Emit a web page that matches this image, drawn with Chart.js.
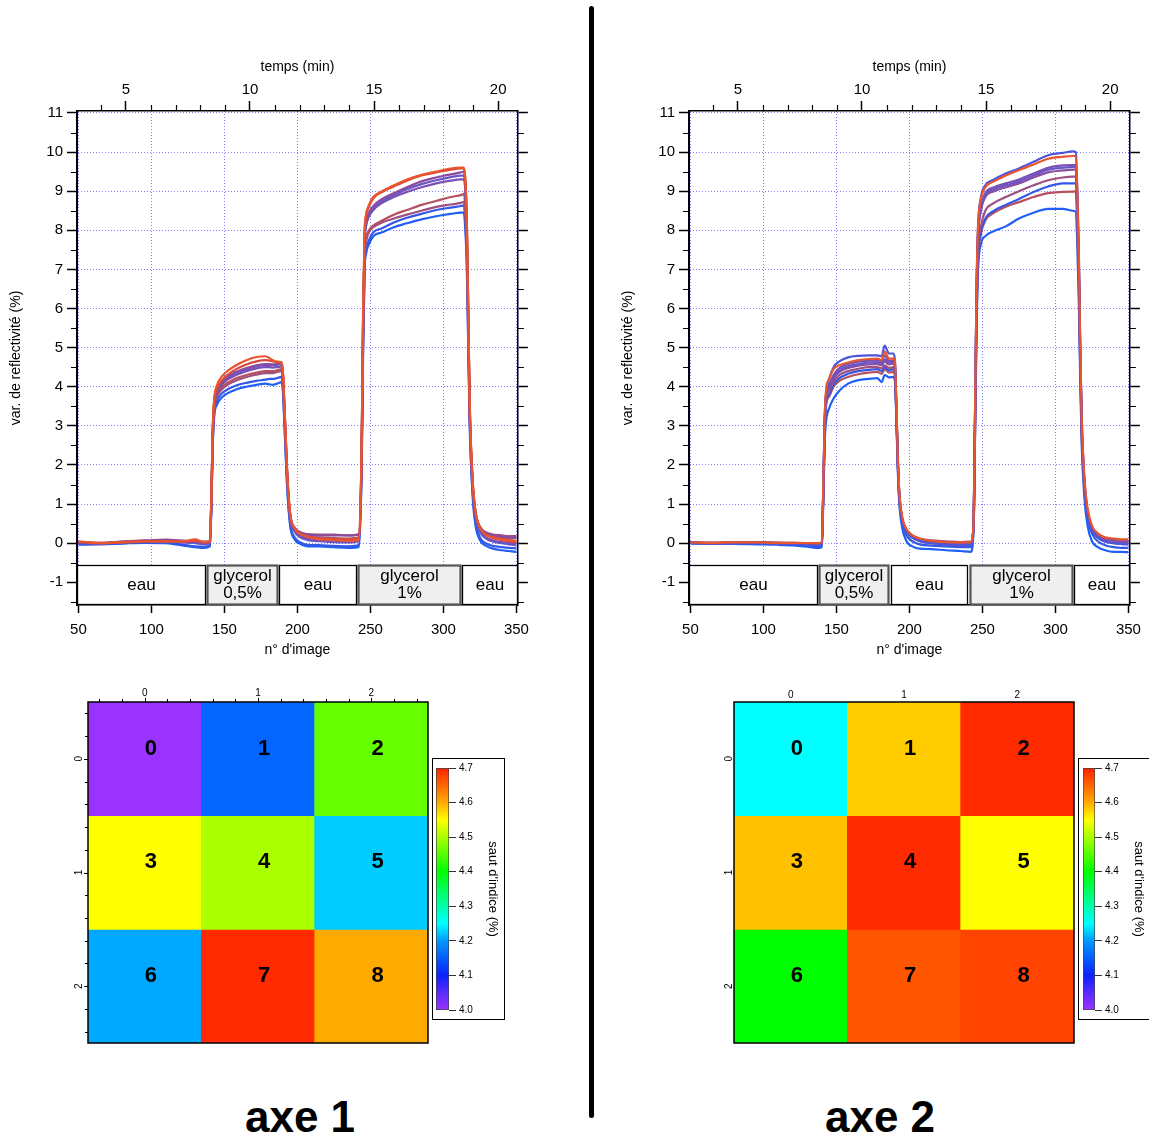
<!DOCTYPE html>
<html lang="fr">
<head>
<meta charset="utf-8">
<title>axe 1 / axe 2</title>
<script src="https://cdn.jsdelivr.net/npm/chart.js@4.4.1/dist/chart.umd.min.js"></script>
<style>
  html, body { margin: 0; padding: 0; background: #fff; overflow: hidden; }
  body { width: 1149px; height: 1138px; position: relative; font-family: 'Liberation Sans', Arial, sans-serif; }
  canvas { position: absolute; }
  .cbar { position: absolute; border: 1px solid #000; background: #fff; }
  .cbar canvas { left: 0; top: 0; }
  .axe { position: absolute; top: 1091px; width: 300px; text-align: center; font-weight: bold; font-size: 44px; line-height: 52px; }
  #divider { position: absolute; left: 589px; top: 6px; width: 5px; height: 1112px; background: #000; border-radius: 3px; }
</style>
</head>
<body>
<canvas id="line1" width="537" height="610" style="left:0;top:50px"></canvas>
<canvas id="line2" width="537" height="610" style="left:612px;top:50px"></canvas>
<canvas id="heat1" width="380" height="380" style="left:60px;top:670px"></canvas>
<canvas id="heat2" width="380" height="380" style="left:706px;top:670px"></canvas>
<div class="cbar" style="left:432px;top:758px;width:71px;height:260px"><canvas id="cbar1" width="71" height="260"></canvas></div>
<div class="cbar" style="left:1078px;top:758px;width:71px;height:260px"><canvas id="cbar2" width="71" height="260"></canvas></div>
<div id="divider"></div>
<div class="axe" style="left:150px">axe 1</div>
<div class="axe" style="left:730px">axe 2</div>

<script>
// n° d'image des points relevés
const imageNums = [50, 65, 80, 95, 110, 122, 130, 136, 140,
  141, 142, 143, 145, 148, 152, 158, 165,
  172, 178, 181, 183, 186, 189,
  190, 191, 192, 193, 195, 198, 202, 207,
  215, 225, 235, 242,
  244, 245, 246, 247, 249, 252, 258, 266,
  275, 285, 295, 305, 312,
  314, 315, 316, 317, 318, 320, 322, 325,
  329, 334, 340, 345, 350];
const imageTicks = [50, 100, 150, 200, 250, 300, 350];

// axe 1 : var. de reflectivité (%)
const axe1Line0 = [-0.04, -0.03, -0.01, 0.01, 0.0, -0.06, -0.1, -0.12, -0.08,
  0.85, 2.5, 3.25, 3.55, 3.72, 3.83, 3.93, 4.0,
  4.05, 4.08, 4.06, 4.05, 4.08, 4.12,
  3.9, 3.1, 2.2, 1.4, 0.45, 0.1, -0.02, -0.08,
  -0.08, -0.1, -0.12, -0.1,
  1.9, 5.0, 7.0, 7.4, 7.65, 7.85, 7.95, 8.08,
  8.18, 8.28, 8.36, 8.42, 8.45,
  8.45, 8.0, 7.1, 5.0, 3.0, 1.2, 0.45, 0.08,
  -0.06, -0.14, -0.18, -0.2, -0.22];
const axe1Line1 = [-0.02, -0.02, 0.0, 0.02, 0.02, -0.04, -0.08, -0.09, -0.06,
  0.9, 2.6, 3.35, 3.65, 3.82, 3.93, 4.03, 4.1,
  4.15, 4.18, 4.2, 4.2, 4.22, 4.25,
  4.0, 3.2, 2.3, 1.45, 0.5, 0.15, 0.02, -0.04,
  -0.05, -0.07, -0.08, -0.05,
  2.0, 5.1, 7.1, 7.5, 7.75, 7.95, 8.05, 8.2,
  8.32, 8.42, 8.52, 8.58, 8.62,
  8.64, 8.2, 7.3, 5.2, 3.1, 1.3, 0.55, 0.15,
  0.0, -0.07, -0.1, -0.12, -0.13];
const axe1Line2 = [0.02, 0.0, 0.04, 0.07, 0.09, 0.06, 0.05, 0.04, 0.05,
  1.0, 2.7, 3.4, 3.75, 3.92, 4.05, 4.16, 4.25,
  4.31, 4.35, 4.35, 4.35, 4.38, 4.4,
  4.2, 3.35, 2.45, 1.62, 0.7, 0.38, 0.27, 0.23,
  0.22, 0.22, 0.2, 0.23,
  2.2, 5.3, 7.3, 7.7, 7.95, 8.08, 8.2, 8.3,
  8.4, 8.5, 8.6, 8.66, 8.7,
  8.73, 8.4, 7.5, 5.4, 3.3, 1.5, 0.78, 0.42,
  0.28, 0.22, 0.2, 0.18, 0.18];
const axe1Line3 = [0.03, 0.01, 0.03, 0.05, 0.07, 0.05, 0.04, 0.03, 0.04,
  1.0, 2.7, 3.45, 3.8, 3.98, 4.1, 4.22, 4.3,
  4.36, 4.4, 4.4, 4.4, 4.42, 4.45,
  4.25, 3.4, 2.5, 1.65, 0.68, 0.35, 0.22, 0.16,
  0.15, 0.13, 0.12, 0.15,
  2.2, 5.4, 7.4, 7.8, 8.0, 8.12, 8.25, 8.4,
  8.52, 8.65, 8.75, 8.85, 8.9,
  8.93, 8.6, 7.7, 5.5, 3.3, 1.5, 0.75, 0.38,
  0.22, 0.16, 0.13, 0.12, 0.12];
const axe1Line4 = [0.01, 0.0, 0.03, 0.05, 0.06, 0.03, 0.01, 0.0, 0.01,
  1.0, 2.75, 3.5, 3.85, 4.05, 4.18, 4.3, 4.4,
  4.47, 4.5, 4.5, 4.49, 4.5, 4.52,
  4.3, 3.45, 2.55, 1.7, 0.66, 0.32, 0.18, 0.11,
  0.08, 0.06, 0.05, 0.07,
  2.3, 5.7, 7.7, 8.1, 8.35, 8.52, 8.7, 8.85,
  8.98, 9.1, 9.2, 9.27, 9.3,
  9.3, 9.0, 8.0, 5.7, 3.4, 1.5, 0.7, 0.32,
  0.15, 0.07, 0.03, 0.01, 0.0];
const axe1Line5 = [0.0, -0.01, 0.02, 0.04, 0.05, 0.02, 0.0, -0.02, 0.0,
  1.0, 2.8, 3.55, 3.9, 4.08, 4.22, 4.35, 4.45,
  4.52, 4.56, 4.56, 4.55, 4.56, 4.58,
  4.35, 3.5, 2.6, 1.7, 0.65, 0.3, 0.15, 0.08,
  0.05, 0.03, 0.02, 0.05,
  2.4, 5.8, 7.75, 8.15, 8.4, 8.58, 8.75, 8.9,
  9.05, 9.18, 9.28, 9.36, 9.4,
  9.4, 9.1, 8.1, 5.8, 3.4, 1.5, 0.7, 0.3,
  0.12, 0.04, 0.0, -0.03, -0.05];
const axe1Line6 = [0.02, 0.0, 0.04, 0.06, 0.08, 0.06, 0.05, 0.03, 0.03,
  1.1, 2.85, 3.6, 3.9, 4.1, 4.25, 4.38, 4.48,
  4.55, 4.58, 4.58, 4.57, 4.58, 4.6,
  4.38, 3.58, 2.68, 1.78, 0.75, 0.4, 0.28, 0.22,
  0.2, 0.2, 0.2, 0.22,
  2.4, 5.8, 7.8, 8.2, 8.45, 8.62, 8.8, 8.95,
  9.1, 9.25, 9.35, 9.43, 9.48,
  9.5, 9.2, 8.2, 5.9, 3.5, 1.6, 0.8, 0.42,
  0.26, 0.2, 0.17, 0.15, 0.15];
const axe1Line7 = [0.03, 0.01, 0.02, 0.04, 0.05, 0.04, 0.06, 0.02, 0.04,
  1.1, 2.9, 3.65, 3.95, 4.15, 4.3, 4.45, 4.57,
  4.65, 4.68, 4.67, 4.65, 4.63, 4.62,
  4.4, 3.6, 2.7, 1.8, 0.75, 0.38, 0.25, 0.17,
  0.12, 0.1, 0.1, 0.1,
  2.5, 5.9, 7.9, 8.35, 8.6, 8.82, 8.98, 9.12,
  9.27, 9.4, 9.48, 9.55, 9.58,
  9.58, 9.3, 8.3, 6.0, 3.6, 1.6, 0.8, 0.4,
  0.22, 0.13, 0.08, 0.05, 0.02];
const axe1Line8 = [0.05, 0.0, 0.03, 0.05, 0.04, 0.05, 0.1, 0.03, 0.05,
  1.2, 3.0, 3.7, 4.05, 4.25, 4.4, 4.55, 4.68,
  4.76, 4.78, 4.73, 4.68, 4.64, 4.63,
  4.4, 3.6, 2.7, 1.8, 0.75, 0.38, 0.24, 0.16,
  0.1, 0.08, 0.06, 0.08,
  2.6, 6.0, 8.0, 8.4, 8.65, 8.85, 9.0, 9.15,
  9.3, 9.42, 9.5, 9.58, 9.6,
  9.6, 9.3, 8.3, 6.0, 3.6, 1.6, 0.8, 0.4,
  0.22, 0.15, 0.1, 0.08, 0.05];
const axe1Colors = ['#1f5ff5', '#3358e6', '#9e5080', '#b5505e', '#7a50b4', '#6a55c8', '#8a4c9c', '#d8483a', '#e9552c'];

// axe 2 : var. de reflectivité (%)
const axe2Line0 = [-0.01, -0.02, -0.02, -0.03, -0.04, -0.06, -0.09, -0.12, -0.1,
  1.1, 2.6, 3.15, 3.45, 3.7, 3.9, 4.08, 4.17,
  4.2, 4.22, 4.12, 4.3, 4.24, 4.25,
  4.15, 3.2, 1.9, 1.05, 0.4, 0.05, -0.08, -0.14,
  -0.15, -0.18, -0.2, -0.22,
  0.4, 3.0, 5.5, 7.0, 7.65, 7.85, 7.98, 8.1,
  8.3, 8.45, 8.55, 8.55, 8.5,
  8.47, 7.6, 6.2, 4.1, 2.5, 1.1, 0.45, 0.05,
  -0.1, -0.18, -0.22, -0.22, -0.23];
const axe2Line1 = [0.02, 0.01, 0.02, 0.02, 0.01, 0.0, 0.0, -0.01, 0.01,
  1.25, 2.9, 3.55, 3.75, 4.0, 4.15, 4.25, 4.32,
  4.36, 4.38, 4.33, 4.45, 4.36, 4.38,
  4.3, 3.32, 2.02, 1.2, 0.6, 0.32, 0.18, 0.1,
  0.05, 0.03, 0.01, 0.02,
  0.45, 3.0, 5.7, 7.2, 7.9, 8.25, 8.45, 8.6,
  8.72, 8.85, 8.95, 8.98, 8.99,
  8.99, 8.1, 6.7, 4.5, 2.8, 1.35, 0.75, 0.38,
  0.2, 0.1, 0.05, 0.03, 0.02];
const axe2Line2 = [0.0, -0.01, 0.0, 0.0, -0.02, -0.03, -0.05, -0.08, -0.05,
  1.25, 2.9, 3.6, 3.8, 4.05, 4.22, 4.33, 4.4,
  4.43, 4.45, 4.4, 4.5, 4.42, 4.45,
  4.35, 3.35, 2.0, 1.15, 0.52, 0.2, 0.05, -0.03,
  -0.06, -0.08, -0.1, -0.1,
  0.45, 3.1, 5.8, 7.3, 7.95, 8.3, 8.5, 8.65,
  8.8, 8.98, 9.12, 9.2, 9.2,
  9.2, 8.3, 6.8, 4.5, 2.8, 1.3, 0.65, 0.25,
  0.05, -0.05, -0.1, -0.12, -0.12];
const axe2Line3 = [0.02, 0.01, 0.02, 0.02, 0.01, 0.01, 0.0, -0.01, 0.01,
  1.3, 3.0, 3.7, 3.9, 4.12, 4.3, 4.4, 4.46,
  4.5, 4.5, 4.47, 4.55, 4.48, 4.5,
  4.42, 3.42, 2.1, 1.25, 0.63, 0.34, 0.2, 0.12,
  0.07, 0.05, 0.03, 0.04,
  0.5, 3.2, 6.0, 7.5, 8.1, 8.5, 8.7, 8.85,
  9.0, 9.15, 9.28, 9.35, 9.37,
  9.37, 8.5, 7.0, 4.7, 2.9, 1.4, 0.8, 0.4,
  0.22, 0.12, 0.08, 0.06, 0.05];
const axe2Line4 = [0.02, 0.01, 0.01, 0.02, 0.01, 0.0, -0.01, -0.02, 0.0,
  1.35, 3.1, 3.75, 3.95, 4.2, 4.38, 4.48, 4.54,
  4.57, 4.58, 4.55, 4.65, 4.57, 4.6,
  4.5, 3.48, 2.15, 1.28, 0.63, 0.33, 0.18, 0.1,
  0.05, 0.02, 0.0, 0.01,
  0.55, 3.4, 6.3, 7.8, 8.5, 8.85, 9.0, 9.1,
  9.2, 9.35, 9.48, 9.53, 9.55,
  9.55, 8.6, 7.1, 4.8, 3.0, 1.45, 0.8, 0.4,
  0.2, 0.1, 0.07, 0.05, 0.05];
const axe2Line5 = [0.01, -0.01, 0.0, 0.01, -0.01, -0.02, -0.03, -0.05, -0.02,
  1.35, 3.1, 3.8, 4.0, 4.25, 4.42, 4.52, 4.58,
  4.62, 4.63, 4.6, 4.7, 4.62, 4.64,
  4.55, 3.5, 2.15, 1.25, 0.6, 0.3, 0.14, 0.05,
  0.0, -0.03, -0.05, -0.04,
  0.55, 3.5, 6.4, 7.85, 8.55, 8.9, 9.05, 9.15,
  9.25, 9.4, 9.55, 9.6, 9.62,
  9.62, 8.7, 7.2, 4.8, 3.0, 1.4, 0.75, 0.34,
  0.14, 0.04, 0.0, -0.02, -0.03];
const axe2Line6 = [0.01, 0.0, 0.01, 0.01, 0.0, 0.0, -0.01, -0.03, -0.01,
  1.4, 3.2, 3.85, 4.05, 4.3, 4.48, 4.58, 4.64,
  4.67, 4.68, 4.64, 4.8, 4.66, 4.68,
  4.6, 3.55, 2.2, 1.3, 0.64, 0.33, 0.17, 0.08,
  0.03, 0.0, -0.02, -0.01,
  0.6, 3.5, 6.4, 7.9, 8.6, 8.95, 9.1, 9.2,
  9.3, 9.45, 9.6, 9.66, 9.67,
  9.67, 8.8, 7.3, 4.9, 3.1, 1.5, 0.82, 0.4,
  0.2, 0.1, 0.06, 0.04, 0.03];
const axe2Line7 = [0.02, 0.0, 0.01, 0.02, 0.0, -0.01, -0.03, -0.06, -0.03,
  1.4, 3.2, 3.85, 4.2, 4.5, 4.65, 4.75, 4.79,
  4.8, 4.8, 4.78, 5.05, 4.85, 4.85,
  4.7, 3.6, 2.2, 1.3, 0.62, 0.3, 0.15, 0.06,
  0.0, -0.03, -0.05, -0.04,
  0.6, 3.6, 6.6, 8.1, 8.85, 9.15, 9.3, 9.45,
  9.58, 9.75, 9.92, 9.98, 10.02,
  10.0, 9.0, 7.5, 5.0, 3.2, 1.5, 0.8, 0.35,
  0.15, 0.05, 0.0, -0.02, -0.03];
const axe2Line8 = [0.02, 0.01, 0.02, 0.02, 0.01, 0.01, 0.0, 0.0, 0.02,
  1.5, 3.3, 3.95, 4.2, 4.45, 4.55, 4.62, 4.68,
  4.71, 4.72, 4.68, 4.9, 4.72, 4.72,
  4.7, 3.65, 2.25, 1.35, 0.68, 0.36, 0.2, 0.12,
  0.06, 0.03, 0.02, 0.03,
  0.6, 3.6, 6.6, 8.1, 8.8, 9.1, 9.25, 9.4,
  9.54, 9.68, 9.83, 9.88, 9.9,
  9.9, 9.0, 7.5, 5.0, 3.2, 1.6, 0.9, 0.45,
  0.25, 0.15, 0.12, 0.1, 0.1];
const axe2Colors = ['#1f5ff5', '#b5505e', '#3358e6', '#9e5080', '#8a4c9c', '#6a55c8', '#7a50b4', '#4d55d8', '#e9552c'];

// bandeau des solutions injectées
const regionLabels = ['eau', 'glycerol\n0,5%', 'eau', 'glycerol\n1%', 'eau'];
const axe1RegionStart = [49, 138.3, 187.6, 241.4, 312.5];
const axe1RegionEnd = [137.6, 186.8, 240.6, 311.7, 351];
const axe2RegionStart = [49, 138, 187.2, 241.3, 312.6];
const axe2RegionEnd = [137.4, 186.3, 240.4, 312, 351];

// cartes : saut d'indice (%) par zone
const colNames = ['0', '1', '2'];
const rowNames = ['0', '1', '2'];
const cellIds = ['0', '1', '2', '3', '4', '5', '6', '7', '8'];
const axe1Jumps = [4.0, 4.157, 4.46, 4.55, 4.5, 4.225, 4.208, 4.694, 4.6];
const axe2Jumps = [4.25, 4.58, 4.694, 4.587, 4.694, 4.55, 4.4, 4.662, 4.675];

// palette de la barre de couleurs
const cmapValues = [4.0, 4.05, 4.1, 4.2, 4.25, 4.4, 4.5, 4.55, 4.6, 4.7];
const cmapColors = ['#9a33ff', '#5a2cff', '#0a22ff', '#0099ff', '#00ffff', '#00ff00', '#aaff00', '#ffff00', '#ffaa00', '#ff2200'];

const imageMin = 49, imageMax = 351;
const reflMin = -1.58, reflMax = 11.05;
const imagesPerMinute = 17, imageOffset = 2.5;
const toMinutes = (img) => (img + imageOffset) / imagesPerMinute;

const FONT = "'Liberation Sans', Arial, sans-serif";
Chart.defaults.font.family = FONT;
Chart.defaults.color = '#000';

const gridBlue = 'rgba(95, 95, 255, 0.8)';

function hexRgb(h) {
    return [1, 3, 5].map(i => parseInt(h.slice(i, i + 2), 16));
}

function valueColor(v) {
    const n = cmapValues.length;
    if (v <= cmapValues[0]) return cmapColors[0];
    if (v >= cmapValues[n - 1]) return cmapColors[n - 1];
    let i = 0;
    while (v > cmapValues[i + 1]) i++;
    const t = (v - cmapValues[i]) / (cmapValues[i + 1] - cmapValues[i]);
    const a = hexRgb(cmapColors[i]), b = hexRgb(cmapColors[i + 1]);
    return 'rgb(' + a.map((c, k) => Math.round(c + (b[k] - c) * t)).join(',') + ')';
}

// petites graduations + bandeau eau / glycerol
const lineDecor = {
    id: 'lineDecor',
    afterDraw(chart, args, opts) {
        const { ctx, chartArea: area } = chart;
        const { x, y, x2 } = chart.scales;
        ctx.save();
        ctx.strokeStyle = '#000';
        ctx.lineWidth = 1.2;
        ctx.beginPath();
        for (let v = Math.ceil(y.min * 2) / 2; v <= y.max; v += 0.5) {
            if (Number.isInteger(v)) continue;
            const py = Math.round(y.getPixelForValue(v)) + 0.5;
            ctx.moveTo(area.left - 6, py); ctx.lineTo(area.left, py);
            ctx.moveTo(area.right, py); ctx.lineTo(area.right + 6, py);
        }
        for (let t = Math.ceil(x2.min); t <= x2.max; t++) {
            if (t % 5 === 0) continue;
            const px = Math.round(x2.getPixelForValue(t)) + 0.5;
            ctx.moveTo(px, area.top - 6); ctx.lineTo(px, area.top);
        }
        ctx.stroke();

        const top = Math.round(y.getPixelForValue(opts.boxTop)) + 0.5;
        const bottom = Math.round(area.bottom) - 0.5;
        ctx.font = '17px ' + FONT;
        ctx.textAlign = 'center';
        ctx.textBaseline = 'middle';
        opts.labels.forEach((text, i) => {
            const l = Math.round(x.getPixelForValue(opts.starts[i])) + 0.5;
            const r = Math.round(x.getPixelForValue(opts.ends[i])) - 0.5;
            const gly = text.startsWith('glycerol');
            ctx.fillStyle = gly ? '#efefef' : '#fff';
            ctx.fillRect(l, top, r - l, bottom - top);
            ctx.lineWidth = gly ? 2.2 : 1.3;
            ctx.strokeStyle = gly ? '#555' : '#000';
            ctx.strokeRect(l, top, r - l, bottom - top);
            ctx.fillStyle = '#000';
            const lines = text.split('\n');
            const cx = (l + r) / 2, cy = (top + bottom) / 2;
            lines.forEach((ln, k) => ctx.fillText(ln, cx, cy + (k - (lines.length - 1) / 2) * 17.5));
        });
        ctx.restore();
    }
};

function makeLineChart(id, lines, colors, starts, ends) {
    const datasets = lines.map((vals, i) => ({
        data: vals.map((v, k) => ({ x: imageNums[k], y: v })),
        borderColor: colors[i],
        borderWidth: 2.2,
        pointRadius: 0,
        cubicInterpolationMode: 'monotone',
        order: lines.length - i
    }));
    const tickGrid = { drawOnChartArea: false, tickLength: 10, tickColor: '#000', tickWidth: 1.5 };
    return new Chart(document.getElementById(id), {
        type: 'line',
        data: { datasets },
        plugins: [lineDecor],
        options: {
            responsive: false,
            animation: false,
            devicePixelRatio: 1,
            plugins: {
                legend: { display: false },
                tooltip: { enabled: false },
                lineDecor: { labels: regionLabels, starts, ends, boxTop: -0.55 }
            },
            scales: {
                x: {
                    type: 'linear', position: 'bottom', min: imageMin, max: imageMax,
                    ticks: { font: { size: 15 }, padding: 8, maxRotation: 0 },
                    afterBuildTicks: s => { s.ticks = imageTicks.map(v => ({ value: v })); },
                    grid: { color: gridBlue, tickLength: 8, tickColor: '#000', tickWidth: 1.5 },
                    border: { color: '#000', width: 1.5, dash: [1, 2] },
                    title: { display: true, text: "n° d'image", font: { size: 14 }, padding: { top: 0, bottom: 1 } },
                    afterFit: s => { s.height = 55; }
                },
                x2: {
                    type: 'linear', position: 'top', min: toMinutes(imageMin), max: toMinutes(imageMax),
                    ticks: { stepSize: 5, includeBounds: false, font: { size: 15 }, padding: 2, maxRotation: 0 },
                    grid: tickGrid,
                    border: { color: '#000', width: 1.5 },
                    title: { display: true, text: 'temps (min)', font: { size: 14 }, padding: { top: 9, bottom: 0 } },
                    afterFit: s => { s.height = 61; }
                },
                y: {
                    type: 'linear', position: 'left', min: reflMin, max: reflMax,
                    ticks: { stepSize: 1, includeBounds: false, font: { size: 15 }, padding: 4 },
                    grid: { color: gridBlue, tickLength: 10, tickColor: '#000', tickWidth: 1.5 },
                    border: { color: '#000', width: 2, dash: [1, 2] },
                    title: { display: true, text: 'var. de reflectivité (%)', font: { size: 14 }, padding: { top: 8, bottom: 0 } },
                    afterFit: s => { s.width = 77; }
                },
                y2: {
                    type: 'linear', position: 'right', min: reflMin, max: reflMax,
                    ticks: { display: false, stepSize: 1, includeBounds: false },
                    grid: tickGrid,
                    border: { color: '#000', width: 1.5 },
                    afterFit: s => { s.width = 16; }
                }
            }
        }
    });
}

// cadre, graduations, étiquettes tournées et numéros de zone
const cellShiftX = 0.055, cellShiftY = -0.09;
const heatDecor = {
    id: 'heatDecor',
    afterDraw(chart, args, opts) {
        const { ctx, chartArea: a } = chart;
        const { x, y } = chart.scales;
        ctx.save();
        ctx.strokeStyle = '#000';
        ctx.lineWidth = 1.5;
        ctx.strokeRect(a.left, a.top, a.right - a.left, a.bottom - a.top);
        if (opts.minorTicks) {
            ctx.lineWidth = 1;
            ctx.beginPath();
            for (let k = -2; k <= 12; k++) {
                const len = k % 5 === 0 ? 4 : 3;
                const px = Math.round(x.getPixelForValue(k / 5)) + 0.5;
                const py = Math.round(y.getPixelForValue(k / 5)) + 0.5;
                ctx.moveTo(px, a.top); ctx.lineTo(px, a.top - len);
                ctx.moveTo(a.left, py); ctx.lineTo(a.left - len, py);
            }
            ctx.stroke();
        }
        ctx.fillStyle = '#000';
        ctx.textAlign = 'center';
        ctx.textBaseline = 'middle';
        ctx.font = '10px ' + FONT;
        rowNames.forEach((name, r) => {
            ctx.save();
            ctx.translate(a.left - opts.labelGap, y.getPixelForValue(r));
            ctx.rotate(-Math.PI / 2);
            ctx.fillText(name, 0, 0);
            ctx.restore();
        });
        ctx.font = 'bold 22px ' + FONT;
        cellIds.forEach((id, i) => {
            const r = Math.floor(i / 3), c = i % 3;
            ctx.fillText(id, x.getPixelForValue(c + cellShiftX), y.getPixelForValue(r + cellShiftY));
        });
        ctx.restore();
    }
};

function makeHeatmap(id, jumps, minorTicks, labelGap, topPad) {
    const datasets = rowNames.map((rn, r) => ({
        data: colNames.map(() => [r - 0.5, r + 0.5]),
        backgroundColor: colNames.map((cn, c) => valueColor(jumps[r * 3 + c])),
        barPercentage: 1,
        categoryPercentage: 1,
        grouped: false,
        borderWidth: 0
    }));
    return new Chart(document.getElementById(id), {
        type: 'bar',
        data: { labels: colNames, datasets },
        plugins: [heatDecor],
        options: {
            responsive: false,
            animation: false,
            devicePixelRatio: 1,
            layout: { padding: { right: 12, bottom: 7 } },
            plugins: {
                legend: { display: false },
                tooltip: { enabled: false },
                heatDecor: { minorTicks, labelGap }
            },
            scales: {
                x: {
                    type: 'category', position: 'top',
                    ticks: { font: { size: 10 }, padding: topPad, maxRotation: 0 },
                    grid: { display: false, drawTicks: false },
                    border: { display: false },
                    afterFit: s => { s.height = 32; }
                },
                y: {
                    type: 'linear', min: -0.5, max: 2.5, reverse: true,
                    ticks: { display: false },
                    grid: { display: false, drawTicks: false },
                    border: { display: false },
                    afterFit: s => { s.width = 28; }
                }
            }
        }
    });
}

function cmapGradient(chart) {
    const y = chart.scales.y;
    if (!chart.chartArea || !y) return '#fff';
    const first = cmapValues[0], last = cmapValues[cmapValues.length - 1];
    const g = chart.ctx.createLinearGradient(0, y.getPixelForValue(first), 0, y.getPixelForValue(last));
    cmapValues.forEach((v, i) => g.addColorStop((v - first) / (last - first), cmapColors[i]));
    return g;
}

function makeColorbar(id, padLeft) {
    return new Chart(document.getElementById(id), {
        type: 'bar',
        data: {
            labels: [''],
            datasets: [{
                data: [[cmapValues[0], cmapValues[cmapValues.length - 1]]],
                backgroundColor: c => cmapGradient(c.chart),
                borderColor: '#444',
                borderWidth: 1,
                borderSkipped: false,
                barPercentage: 1,
                categoryPercentage: 1
            }]
        },
        options: {
            responsive: false,
            animation: false,
            devicePixelRatio: 1,
            layout: { padding: { left: padLeft, top: 8, bottom: 8, right: 0 } },
            plugins: { legend: { display: false }, tooltip: { enabled: false } },
            scales: {
                x: { display: false },
                y: {
                    position: 'right', min: 4.0, max: 4.7,
                    ticks: { stepSize: 0.1, font: { size: 10 }, padding: 3, callback: v => v.toFixed(1) },
                    grid: { drawOnChartArea: false, tickLength: 7, tickColor: '#333' },
                    border: { display: false },
                    title: { display: true, text: "saut d'indice (%)", font: { size: 13 }, padding: { top: 4, bottom: 0 } },
                    afterFit: s => { s.width = 55; }
                }
            }
        }
    });
}

makeLineChart('line1',
    [axe1Line0, axe1Line1, axe1Line2, axe1Line3, axe1Line4, axe1Line5, axe1Line6, axe1Line7, axe1Line8],
    axe1Colors, axe1RegionStart, axe1RegionEnd);
makeLineChart('line2',
    [axe2Line0, axe2Line1, axe2Line2, axe2Line3, axe2Line4, axe2Line5, axe2Line6, axe2Line7, axe2Line8],
    axe2Colors, axe2RegionStart, axe2RegionEnd);
makeHeatmap('heat1', axe1Jumps, true, 9, 3);
makeHeatmap('heat2', axe2Jumps, false, 5, 1);
makeColorbar('cbar1', 3);
makeColorbar('cbar2', 4);
</script>
</body>
</html>
